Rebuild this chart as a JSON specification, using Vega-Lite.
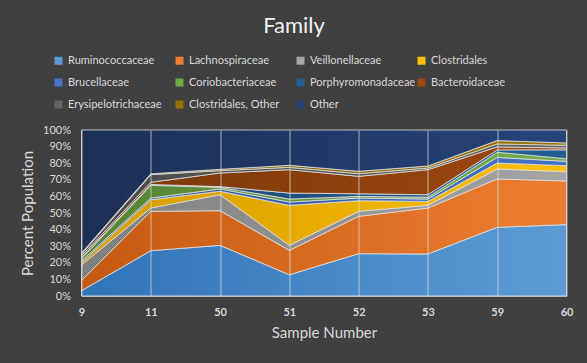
{
  "$schema": "https://vega.github.io/schema/vega-lite/v6.json",
  "width": 485,
  "height": 166,
  "autosize": {"type": "none"},
  "padding": {"left": 81.5, "top": 130, "right": 20.5, "bottom": 67},
  "background": "#404040",
  "title": {"text": "Family", "fontSize": 22, "color": "#f2f2f2", "fontWeight": "normal", "font": "Lato", "anchor": "middle", "frame": "group", "dx": -30, "offset": 17},
  "config": {"view": {"stroke": null}, "font": "Lato", "area": {"stroke": "#e3e3e3", "strokeWidth": 0.8}},
  "datasets": {
    "stackorder": [
      {"family": "Ruminococcaceae", "rank": 1},
      {"family": "Lachnospiraceae", "rank": 2},
      {"family": "Veillonellaceae", "rank": 3},
      {"family": "Clostridales", "rank": 4},
      {"family": "Brucellaceae", "rank": 5},
      {"family": "Coriobacteriaceae", "rank": 6},
      {"family": "Porphyromonadaceae", "rank": 7},
      {"family": "Bacteroidaceae", "rank": 8},
      {"family": "Erysipelotrichaceae", "rank": 9},
      {"family": "Clostridales, Other", "rank": 10},
      {"family": "Other", "rank": 11}
    ]
  },
  "data": {"values": [
    {"sample": 9, "family": "Ruminococcaceae", "pct": 3.2},
    {"sample": 9, "family": "Lachnospiraceae", "pct": 6.1},
    {"sample": 9, "family": "Veillonellaceae", "pct": 9.4},
    {"sample": 9, "family": "Clostridales", "pct": 1.5},
    {"sample": 9, "family": "Brucellaceae", "pct": 1.0},
    {"sample": 9, "family": "Coriobacteriaceae", "pct": 1.2},
    {"sample": 9, "family": "Porphyromonadaceae", "pct": 0.8},
    {"sample": 9, "family": "Bacteroidaceae", "pct": 1.0},
    {"sample": 9, "family": "Erysipelotrichaceae", "pct": 1.0},
    {"sample": 9, "family": "Clostridales, Other", "pct": 0.7},
    {"sample": 9, "family": "Other", "pct": 74.1},
    {"sample": 11, "family": "Ruminococcaceae", "pct": 27.3},
    {"sample": 11, "family": "Lachnospiraceae", "pct": 23.7},
    {"sample": 11, "family": "Veillonellaceae", "pct": 2.0},
    {"sample": 11, "family": "Clostridales", "pct": 5.0},
    {"sample": 11, "family": "Brucellaceae", "pct": 1.0},
    {"sample": 11, "family": "Coriobacteriaceae", "pct": 7.7},
    {"sample": 11, "family": "Porphyromonadaceae", "pct": 0.5},
    {"sample": 11, "family": "Bacteroidaceae", "pct": 1.3},
    {"sample": 11, "family": "Erysipelotrichaceae", "pct": 4.6},
    {"sample": 11, "family": "Clostridales, Other", "pct": 0.5},
    {"sample": 11, "family": "Other", "pct": 26.4},
    {"sample": 50, "family": "Ruminococcaceae", "pct": 30.5},
    {"sample": 50, "family": "Lachnospiraceae", "pct": 20.9},
    {"sample": 50, "family": "Veillonellaceae", "pct": 9.6},
    {"sample": 50, "family": "Clostridales", "pct": 2.1},
    {"sample": 50, "family": "Brucellaceae", "pct": 1.4},
    {"sample": 50, "family": "Coriobacteriaceae", "pct": 1.0},
    {"sample": 50, "family": "Porphyromonadaceae", "pct": 0.4},
    {"sample": 50, "family": "Bacteroidaceae", "pct": 8.2},
    {"sample": 50, "family": "Erysipelotrichaceae", "pct": 1.4},
    {"sample": 50, "family": "Clostridales, Other", "pct": 0.8},
    {"sample": 50, "family": "Other", "pct": 23.7},
    {"sample": 51, "family": "Ruminococcaceae", "pct": 12.8},
    {"sample": 51, "family": "Lachnospiraceae", "pct": 14.7},
    {"sample": 51, "family": "Veillonellaceae", "pct": 3.0},
    {"sample": 51, "family": "Clostridales", "pct": 24.1},
    {"sample": 51, "family": "Brucellaceae", "pct": 2.0},
    {"sample": 51, "family": "Coriobacteriaceae", "pct": 1.8},
    {"sample": 51, "family": "Porphyromonadaceae", "pct": 3.6},
    {"sample": 51, "family": "Bacteroidaceae", "pct": 14.1},
    {"sample": 51, "family": "Erysipelotrichaceae", "pct": 1.4},
    {"sample": 51, "family": "Clostridales, Other", "pct": 1.2},
    {"sample": 51, "family": "Other", "pct": 21.3},
    {"sample": 52, "family": "Ruminococcaceae", "pct": 25.5},
    {"sample": 52, "family": "Lachnospiraceae", "pct": 22.5},
    {"sample": 52, "family": "Veillonellaceae", "pct": 3.0},
    {"sample": 52, "family": "Clostridales", "pct": 6.4},
    {"sample": 52, "family": "Brucellaceae", "pct": 1.6},
    {"sample": 52, "family": "Coriobacteriaceae", "pct": 1.0},
    {"sample": 52, "family": "Porphyromonadaceae", "pct": 1.6},
    {"sample": 52, "family": "Bacteroidaceae", "pct": 10.5},
    {"sample": 52, "family": "Erysipelotrichaceae", "pct": 1.6},
    {"sample": 52, "family": "Clostridales, Other", "pct": 1.4},
    {"sample": 52, "family": "Other", "pct": 24.9},
    {"sample": 53, "family": "Ruminococcaceae", "pct": 25.3},
    {"sample": 53, "family": "Lachnospiraceae", "pct": 27.7},
    {"sample": 53, "family": "Veillonellaceae", "pct": 1.6},
    {"sample": 53, "family": "Clostridales", "pct": 2.4},
    {"sample": 53, "family": "Brucellaceae", "pct": 1.4},
    {"sample": 53, "family": "Coriobacteriaceae", "pct": 1.1},
    {"sample": 53, "family": "Porphyromonadaceae", "pct": 1.5},
    {"sample": 53, "family": "Bacteroidaceae", "pct": 15.1},
    {"sample": 53, "family": "Erysipelotrichaceae", "pct": 1.0},
    {"sample": 53, "family": "Clostridales, Other", "pct": 1.2},
    {"sample": 53, "family": "Other", "pct": 21.7},
    {"sample": 59, "family": "Ruminococcaceae", "pct": 41.4},
    {"sample": 59, "family": "Lachnospiraceae", "pct": 29.1},
    {"sample": 59, "family": "Veillonellaceae", "pct": 6.0},
    {"sample": 59, "family": "Clostridales", "pct": 3.6},
    {"sample": 59, "family": "Brucellaceae", "pct": 3.4},
    {"sample": 59, "family": "Coriobacteriaceae", "pct": 3.1},
    {"sample": 59, "family": "Porphyromonadaceae", "pct": 1.4},
    {"sample": 59, "family": "Bacteroidaceae", "pct": 1.8},
    {"sample": 59, "family": "Erysipelotrichaceae", "pct": 1.8},
    {"sample": 59, "family": "Clostridales, Other", "pct": 2.0},
    {"sample": 59, "family": "Other", "pct": 6.4},
    {"sample": 60, "family": "Ruminococcaceae", "pct": 43.0},
    {"sample": 60, "family": "Lachnospiraceae", "pct": 26.3},
    {"sample": 60, "family": "Veillonellaceae", "pct": 5.6},
    {"sample": 60, "family": "Clostridales", "pct": 3.6},
    {"sample": 60, "family": "Brucellaceae", "pct": 2.6},
    {"sample": 60, "family": "Coriobacteriaceae", "pct": 1.6},
    {"sample": 60, "family": "Porphyromonadaceae", "pct": 5.4},
    {"sample": 60, "family": "Bacteroidaceae", "pct": 1.1},
    {"sample": 60, "family": "Erysipelotrichaceae", "pct": 1.6},
    {"sample": 60, "family": "Clostridales, Other", "pct": 1.4},
    {"sample": 60, "family": "Other", "pct": 7.8}
  ]},
  "transform": [
    {"lookup": "family", "from": {"data": {"name": "stackorder"}, "key": "family", "fields": ["rank"]}},
    {"stack": "pct", "groupby": ["sample"], "sort": [{"field": "rank", "order": "ascending"}], "offset": "normalize", "as": ["y0", "y1"]}
  ],
  "encoding": {
    "x": {
      "field": "sample", "type": "ordinal",
      "scale": {"type": "point", "padding": 0},
      "axis": {
        "title": "Sample Number", "titleFontSize": 15, "titleFontWeight": "normal", "titleColor": "#d9d9d9", "titlePadding": 8,
        "labelAngle": 0, "labelFontSize": 11, "labelFontWeight": "bold", "labelColor": "#d9d9d9", "labelPadding": 10,
        "ticks": false, "domain": true, "domainColor": "#bfbfbf",
        "grid": true, "gridColor": "#d9d9d9", "gridOpacity": 0.75, "zindex": 1
      }
    },
    "y": {
      "field": "y0", "type": "quantitative",
      "scale": {"domain": [0, 1]},
      "axis": {
        "title": "Percent Population", "titleFontSize": 15, "titleFontWeight": "normal", "titleColor": "#d9d9d9", "titlePadding": 7,
        "format": ".0%", "values": [0, 0.1, 0.2, 0.3, 0.4, 0.5, 0.6, 0.7, 0.8, 0.9, 1],
        "labelFontSize": 11, "labelColor": "#d9d9d9", "labelPadding": 11,
        "ticks": false, "domain": false, "grid": true, "gridColor": "#d9d9d9", "gridOpacity": 0.75
      }
    },
    "y2": {"field": "y1"}
  },
  "layer": [
    {"transform": [{"filter": {"field": "family", "equal": "Ruminococcaceae"}}], "mark": {"type": "area", "fill": {"gradient": "linear", "x1": 0, "y1": 0, "x2": 1, "y2": 0, "stops": [{"offset": 0, "color": "#3274b9"}, {"offset": 1, "color": "#5b9bd5"}]}}},
    {"transform": [{"filter": {"field": "family", "equal": "Lachnospiraceae"}}], "mark": {"type": "area", "fill": {"gradient": "linear", "x1": 0, "y1": 0, "x2": 1, "y2": 0, "stops": [{"offset": 0, "color": "#c55a11"}, {"offset": 1, "color": "#ed7d31"}]}}},
    {"transform": [{"filter": {"field": "family", "equal": "Veillonellaceae"}}], "mark": {"type": "area", "fill": {"gradient": "linear", "x1": 0, "y1": 0, "x2": 1, "y2": 0, "stops": [{"offset": 0, "color": "#7f7f7f"}, {"offset": 1, "color": "#a5a5a5"}]}}},
    {"transform": [{"filter": {"field": "family", "equal": "Clostridales"}}], "mark": {"type": "area", "fill": {"gradient": "linear", "x1": 0, "y1": 0, "x2": 1, "y2": 0, "stops": [{"offset": 0, "color": "#d49c00"}, {"offset": 1, "color": "#ffc000"}]}}},
    {"transform": [{"filter": {"field": "family", "equal": "Brucellaceae"}}], "mark": {"type": "area", "fill": {"gradient": "linear", "x1": 0, "y1": 0, "x2": 1, "y2": 0, "stops": [{"offset": 0, "color": "#2f5597"}, {"offset": 1, "color": "#4472c4"}]}}},
    {"transform": [{"filter": {"field": "family", "equal": "Coriobacteriaceae"}}], "mark": {"type": "area", "fill": {"gradient": "linear", "x1": 0, "y1": 0, "x2": 1, "y2": 0, "stops": [{"offset": 0, "color": "#548235"}, {"offset": 1, "color": "#70ad47"}]}}},
    {"transform": [{"filter": {"field": "family", "equal": "Porphyromonadaceae"}}], "mark": {"type": "area", "fill": {"gradient": "linear", "x1": 0, "y1": 0, "x2": 1, "y2": 0, "stops": [{"offset": 0, "color": "#1c4670"}, {"offset": 1, "color": "#255e91"}]}}},
    {"transform": [{"filter": {"field": "family", "equal": "Bacteroidaceae"}}], "mark": {"type": "area", "fill": {"gradient": "linear", "x1": 0, "y1": 0, "x2": 1, "y2": 0, "stops": [{"offset": 0, "color": "#7a360a"}, {"offset": 1, "color": "#9e480e"}]}}},
    {"transform": [{"filter": {"field": "family", "equal": "Erysipelotrichaceae"}}], "mark": {"type": "area", "fill": {"gradient": "linear", "x1": 0, "y1": 0, "x2": 1, "y2": 0, "stops": [{"offset": 0, "color": "#4a4a4a"}, {"offset": 1, "color": "#636363"}]}}},
    {"transform": [{"filter": {"field": "family", "equal": "Clostridales, Other"}}], "mark": {"type": "area", "fill": {"gradient": "linear", "x1": 0, "y1": 0, "x2": 1, "y2": 0, "stops": [{"offset": 0, "color": "#735700"}, {"offset": 1, "color": "#997300"}]}}},
    {"transform": [{"filter": {"field": "family", "equal": "Other"}}], "mark": {"type": "area", "fill": {"gradient": "linear", "x1": 0, "y1": 0, "x2": 1, "y2": 0, "stops": [{"offset": 0, "color": "#1c2f55"}, {"offset": 1, "color": "#26447a"}]}}},
    {
      "transform": [{"filter": "datum.pct < 0"}],
      "mark": {"type": "point", "shape": "square", "filled": true, "opacity": 1},
      "encoding": {
        "color": {
          "field": "family", "type": "nominal",
          "scale": {
            "domain": ["Ruminococcaceae", "Lachnospiraceae", "Veillonellaceae", "Clostridales", "Brucellaceae", "Coriobacteriaceae", "Porphyromonadaceae", "Bacteroidaceae", "Erysipelotrichaceae", "Clostridales, Other", "Other"],
            "range": ["#5b9bd5", "#ed7d31", "#a5a5a5", "#ffc000", "#4472c4", "#70ad47", "#255e91", "#9e480e", "#636363", "#997300", "#264478"]
          },
          "legend": {
            "orient": "none", "legendX": -28.5, "legendY": -75, "columns": 4, "direction": "horizontal",
            "title": null, "symbolType": "square", "symbolSize": 64, "symbolStrokeWidth": 0, "symbolOpacity": 1,
            "labelColor": "#d9d9d9", "labelFontSize": 11, "labelLimit": 200, "labelOffset": 4,
            "rowPadding": 10, "columnPadding": 0, "gridAlign": "all", "padding": 0
          }
        }
      }
    }
  ]
}
